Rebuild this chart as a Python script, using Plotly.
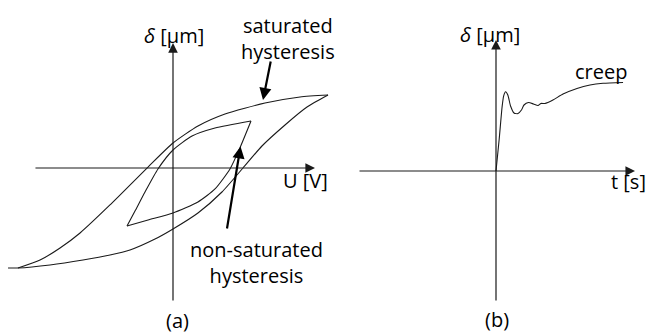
import plotly.graph_objects as go

# ---- data (schematic values) ----
# (a) saturated hysteresis loop: U [V], delta [um]
sat_lower_u = [-103.1, -96.9, -76.9, -56.25, -39.4, -26.9, -11.25, 0.0, 15.6, 30.6, 43.75, 55.6, 70.0, 83.75, 96.9]
sat_lower_d = [-62.5, -62.5, -60.6, -57.5, -54.4, -51.25, -44.4, -38.1, -28.1, -15.0, 0.0, 13.75, 26.9, 38.1, 45.6]
sat_upper_u = [-96.9, -83.1, -70.6, -58.1, -39.4, -15.6, 0.0, 15.6, 32.5, 57.5, 79.4, 96.9]
sat_upper_d = [-62.5, -57.5, -50.0, -40.6, -23.1, 0.6, 15.6, 26.25, 33.75, 40.6, 44.4, 45.6]

# (a) non-saturated hysteresis loop
ns_upper_u = [-28.75, -23.75, -17.5, -9.4, 0.0, 11.9, 26.25, 48.75]
ns_upper_d = [-36.25, -26.9, -15.0, -0.6, 11.25, 20.0, 25.0, 29.4]
ns_lower_u = [-28.75, -15.6, 0.0, 15.6, 26.25, 35.6, 41.25, 48.75]
ns_lower_d = [-36.25, -32.5, -28.1, -21.25, -13.1, -0.6, 11.25, 29.4]

# (b) creep response: t [s], delta [um]
creep_t = [0.0, 2.0, 3.8, 4.8, 6.0, 7.4, 9.1, 11.25, 13.75, 15.9, 17.5, 20.3, 23.4, 26.25,
           28.1, 30.6, 35.6, 41.9, 50.6, 58.75, 66.9, 79.4]
creep_d = [0.0, 20.0, 40.0, 47.0, 49.5, 47.5, 40.6, 36.25, 35.9, 38.1, 41.25, 42.8, 41.9, 40.9,
           42.2, 42.2, 44.4, 48.1, 51.6, 53.75, 54.8, 55.3]

# axis extents (data units) for the drawn coordinate arrows
a_u_axis = [-86.9, 88.75]
a_d_axis = [-83.75, 78.1]
b_t_axis = [-86.25, 86.9]
b_d_axis = [-81.9, 81.9]

FONT = "Open Sans"
INK = "#1a1a1a"

fig = go.Figure()

def curve(x, y, xa, ya, smooth=0.6):
    fig.add_trace(go.Scatter(x=x, y=y, mode="lines", xaxis=xa, yaxis=ya,
                             line=dict(color=INK, width=1.1, shape="spline", smoothing=smooth),
                             hoverinfo="skip", showlegend=False))

curve(sat_lower_u, sat_lower_d, "x", "y")
curve(sat_upper_u, sat_upper_d, "x", "y")
curve(ns_upper_u, ns_upper_d, "x", "y")
curve(ns_lower_u, ns_lower_d, "x", "y")
curve(creep_t, creep_d, "x2", "y2", smooth=0.6)

ann = []

def axis_arrow(x0, y0, x1, y1, xr, yr):
    ann.append(dict(x=x1, y=y1, ax=x0, ay=y0, xref=xr, yref=yr, axref=xr, ayref=yr,
                    text="", showarrow=True, arrowhead=2, arrowsize=1.6, arrowwidth=1.2,
                    arrowcolor=INK, standoff=0, startstandoff=0))

axis_arrow(a_u_axis[0], 0, a_u_axis[1], 0, "x", "y")
axis_arrow(0, a_d_axis[0], 0, a_d_axis[1], "x", "y")
axis_arrow(b_t_axis[0], 0, b_t_axis[1], 0, "x2", "y2")
axis_arrow(0, b_d_axis[0], 0, b_d_axis[1], "x2", "y2")

def pointer(x0, y0, x1, y1):
    ann.append(dict(x=x1, y=y1, ax=x0, ay=y0, xref="x", yref="y", axref="x", ayref="y",
                    text="", showarrow=True, arrowhead=2, arrowsize=1.1, arrowwidth=2.2,
                    arrowcolor="#000000", standoff=0))

pointer(61.25, 67.5, 56.25, 42.5)
pointer(33.6, -38.75, 42.2, 13.5)

def label(x, y, text, xr, yr):
    ann.append(dict(x=x, y=y, xref=xr, yref=yr, text=text, showarrow=False,
                    font=dict(family=FONT, size=20, color="#000000"),
                    xanchor="center", yanchor="middle"))

label(0.9, 83.1, "<i>δ</i> [µm]", "x", "y")
label(83.1, -7.5, "U [V]", "x", "y")
label(71.9, 81.25, "saturated<br>hysteresis", "x", "y")
label(51.9, -58.75, "non-saturated<br>hysteresis", "x", "y")
label(2.8, -95.0, "(a)", "x", "y")
label(-3.75, 85.6, "<i>δ</i> [µm]", "x2", "y2")
label(82.5, -6.25, "t [s]", "x2", "y2")
label(65.6, 61.9, "creep", "x2", "y2")
label(0.6, -93.1, "(b)", "x2", "y2")

hidden = dict(visible=False, showgrid=False, zeroline=False, fixedrange=True)
fig.update_layout(
    width=648, height=334, margin=dict(l=0, r=0, t=0, b=0),
    paper_bgcolor="white", plot_bgcolor="white",
    xaxis=dict(domain=[0, 330/648], range=[-108.125, 98.125], **hidden),
    yaxis=dict(domain=[0, 1], range=[-103.75, 105.0], **hidden),
    xaxis2=dict(domain=[330/648, 1], range=[-103.75, 95.0], anchor="y2", **hidden),
    yaxis2=dict(domain=[0, 1], range=[-101.875, 106.875], anchor="x2", **hidden),
    annotations=ann, showlegend=False,
)

fig.write_html("out.html", config={"displayModeBar": False},
               post_script="document.body.style.margin='0px';")
